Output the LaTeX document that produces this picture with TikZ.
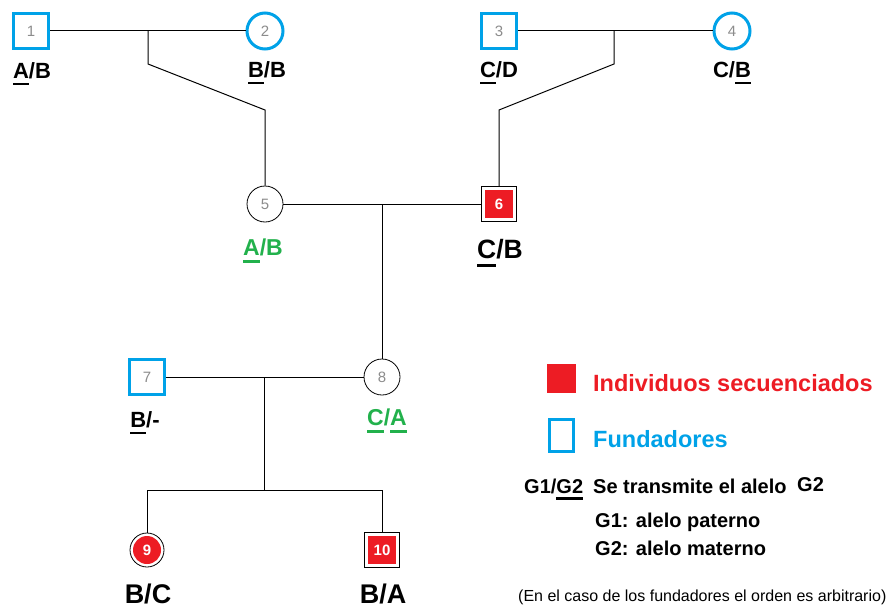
\documentclass[tikz,border=0pt]{standalone}
\usepackage{fontspec}
\setmainfont{Liberation Sans}
\usetikzlibrary{calc}
\definecolor{seqred}{HTML}{ED1C24}
\definecolor{founder}{HTML}{00A2E8}
\definecolor{inhgreen}{HTML}{22B14C}
\definecolor{numgray}{HTML}{8C8C8C}
\newcommand\fs[1]{\fontsize{#1}{#1}\selectfont}
% underline a transmitted allele with a heavy bar in the current colour
\newcommand\ua[1]{\setbox0\hbox{#1}\rlap{\rule[-0.34em]{\wd0}{0.13em}}\box0}
\begin{document}
\begin{tikzpicture}[x=1pt,y=-1pt,
  every node/.style={inner sep=0pt},
  num/.style={text=numgray, font=\fs{15}},
  fsq/.style={num, rectangle, draw=founder, line width=3pt, minimum size=35pt},
  fci/.style={num, circle, draw=founder, line width=3pt, minimum size=36pt},
  pci/.style={num, circle, draw=black, line width=0.8pt, minimum size=36pt},
  ssq/.style={rectangle, draw=black, line width=0.8pt, minimum size=35pt,
    text=white, font=\fs{15}\bfseries,
    path picture={\fill[seqred] ($(path picture bounding box.south west)+(3.5pt,3.5pt)$)
      rectangle ($(path picture bounding box.north east)+(-3.5pt,-3.5pt)$);}},
  sci/.style={circle, draw=black, line width=0.8pt, minimum size=34pt,
    text=white, font=\fs{15}\bfseries,
    path picture={\fill[seqred] (path picture bounding box.center) circle[radius=14pt];}},
  geno/.style={anchor=base, text=black, font=\fs{22}\bfseries},
  link/.style={draw=black, line width=1pt},
  legend/.style={anchor=base west, text=black, font=\fs{20}\bfseries}]
\useasboundingbox[fill=white] (0,0) rectangle (890,610);

% individuals
\node[fsq] (n1) at (31,31) {1};
\node[fci] (n2) at (265,31) {2};
\node[fsq] (n3) at (499,31) {3};
\node[fci] (n4) at (732,31) {4};
\node[pci] (n5) at (265,204) {5};
\node[ssq] (n6) at (499,204) {6};
\node[fsq] (n7) at (147,377) {7};
\node[pci] (n8) at (382,377) {8};
\node[sci] (n9) at (147,550) {9};
\node[ssq] (n10) at (382,550) {10};

% mating lines and descent
\coordinate (m12) at (148,31);
\coordinate (m34) at (614,31);
\coordinate (m56) at (382,204);
\coordinate (m78) at (264,377);
\coordinate (s78) at (264,490);
\draw[link] (n1) -- (n2);
\draw[link] (n3) -- (n4);
\draw[link] (n5) -- (n6);
\draw[link] (n7) -- (n8);
\draw[link] (m12) -- ++(0,33) -- (265,110) -- (n5);
\draw[link] (m34) -- ++(0,33) -- (499,110) -- (n6);
\draw[link] (m56) -- (n8);
\draw[link] (m78) -- (s78);
\draw[link] (n9) -- (147,490) -- (382,490) -- (n10);

% genotypes
\node[geno] (g1) at (32,78) {\ua{A}/B};
\node[geno] (g2) at (267,77) {\ua{B}/B};
\node[geno] (g3) at (499,77) {\ua{C}/D};
\node[geno] (g4) at (732,77) {C/\ua{B}};
\node[geno, text=inhgreen, font=\fs{23}\bfseries] (g5) at (263,255) {\ua{A}/B};
\node[geno, font=\fs{26.5}\bfseries] (g6) at (500,258) {\ua{C}/B};
\node[geno] (g7) at (145,427) {\ua{B}/-};
\node[geno, text=inhgreen, font=\fs{23}\bfseries] (g8) at (387,425) {\ua{C}/\ua{A}};
\node[geno, font=\fs{27}\bfseries] (g9) at (148,603) {B/C};
\node[geno, font=\fs{27}\bfseries] (g10) at (383,603) {B/A};

% legend
\node[fill=seqred, minimum width=29pt, minimum height=29pt] (ks) at (561.5,378) {};
\node[draw=founder, line width=3pt, minimum width=24pt, minimum height=32pt] (kf) at (561,435.5) {};
\node[legend, text=seqred, font=\fs{23.5}\bfseries] (ls) at (593,391) {Individuos secuenciados};
\node[legend, text=founder, font=\fs{23.5}\bfseries] (lf) at (593,447) {Fundadores};
\node[legend] (lg) at (524,493) {G1/\ua{G2}};
\node[legend] (lt) at (593,493) {Se transmite el alelo};
\node[legend] (lt2) at (797,491) {G2};
\node[legend] (lp) at (595,527) {G1: alelo paterno};
\node[legend] (lm) at (595,555) {G2: alelo materno};
\node[anchor=base west, font=\fs{16}] (ln) at (518,601) {(En el caso de los fundadores el orden es arbitrario)};
\end{tikzpicture}
\end{document}
